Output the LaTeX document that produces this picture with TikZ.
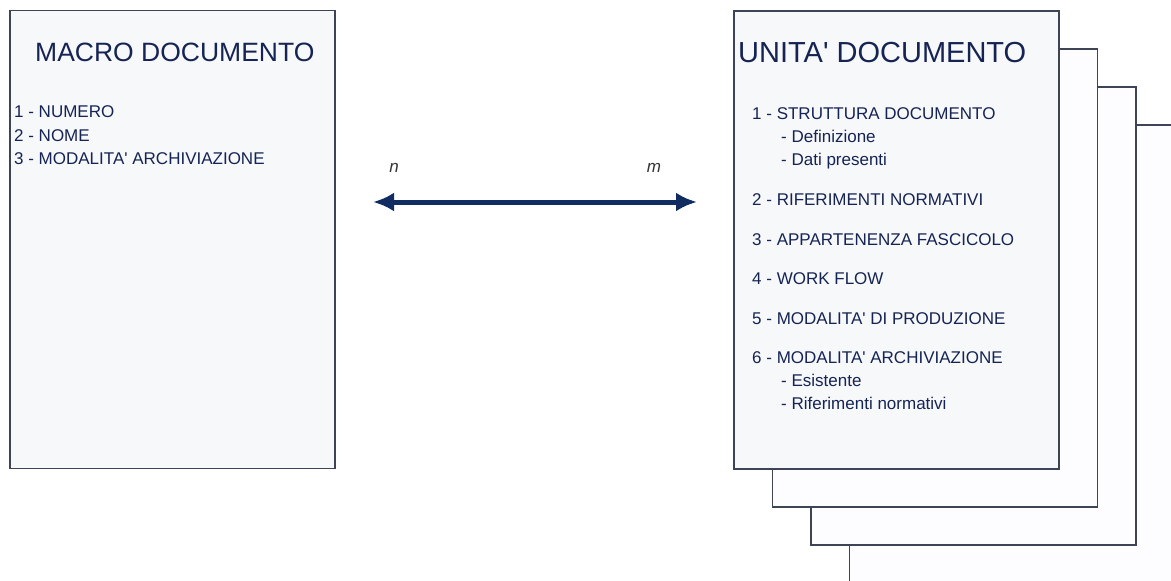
\documentclass[tikz,border=0pt]{standalone}
\usepackage{fontspec}
\setmainfont{Liberation Sans}
\usetikzlibrary{arrows.meta,positioning}
\definecolor{pagefill}{RGB}{247,248,250}
\definecolor{sheetfill}{RGB}{253,253,255}
\definecolor{edgegray}{RGB}{62,68,86}
\definecolor{inknavy}{RGB}{22,36,84}
\definecolor{arrownavy}{RGB}{16,44,96}
\newcommand{\apos}{\textquotesingle}
\tikzset{
  sheet/.style={draw=edgegray, line width=1.8pt, fill=sheetfill,
    minimum width=325pt, minimum height=458pt, inner sep=0pt},
  head/.style={anchor=base west, inner sep=0pt, text=inknavy,
    font=\fontsize{26.5}{30}\selectfont},
  entry/.style={anchor=base west, inner sep=0pt, text=inknavy,
    font=\fontsize{17}{20}\selectfont},
  mult/.style={inner sep=0pt, text=black!80, font=\fontsize{17}{20}\selectfont\itshape},
  rel/.style={{Latex[length=21pt,width=19pt]}-{Latex[length=21pt,width=19pt]},
    line width=5pt, draw=arrownavy}
}

\begin{document}
\begin{tikzpicture}[x=1pt,y=-1pt]

\clip (0,0) rectangle (1171,581);
\fill[white] (0,0) rectangle (1171,581);

% stacked copies behind the unit document
\foreach \k in {3,2,1}
  \node[sheet] (copy\k) at ({896.5+38.5*\k},{240+38*\k}) {};

% Main sheets
\node[sheet, fill=pagefill] (macro) at (172.5,239.5) {};
\node[sheet, fill=pagefill] (unita) at (896.5,240) {};

% Macro document content
\node[head] (macrotitle) at (35,61) {MACRO DOCUMENTO};
\node[entry] (mnum) at (14,117) {1 - NUMERO};
\node[entry] (mnome) at (14,141) {2 - NOME};
\node[entry] (march) at (14,164) {3 - MODALITA\apos{} ARCHIVIAZIONE};

% Unit document content
\node[head, font=\fontsize{29}{32}\selectfont] (unitatitle) at (738,62) {UNITA\apos{} DOCUMENTO};
\node[entry] (ustrutt) at (752,119) {1 - STRUTTURA DOCUMENTO};
\node[entry] (udef) at (781,142) {- Definizione};
\node[entry] (udati) at (781,165) {- Dati presenti};
\node[entry] (urif) at (752,205) {2 - RIFERIMENTI NORMATIVI};
\node[entry] (uapp) at (752,245) {3 - APPARTENENZA FASCICOLO};
\node[entry] (uwork) at (752,284) {4 - WORK FLOW};
\node[entry] (uprod) at (752,324) {5 - MODALITA\apos{} DI PRODUZIONE};
\node[entry] (uarch) at (752,363) {6 - MODALITA\apos{} ARCHIVIAZIONE};
\node[entry] (uesist) at (781,386) {- Esistente};
\node[entry] (unorm) at (781,409) {- Riferimenti normativi};

% n:m relation
\coordinate (relL) at (373,202);
\coordinate (relR) at (697,202);
\node[mult] (nlab) at (394,168) {n};
\node[mult] (mlab) at (654,168) {m};
\draw[rel] (relL) -- (relR);

\end{tikzpicture}
\end{document}
